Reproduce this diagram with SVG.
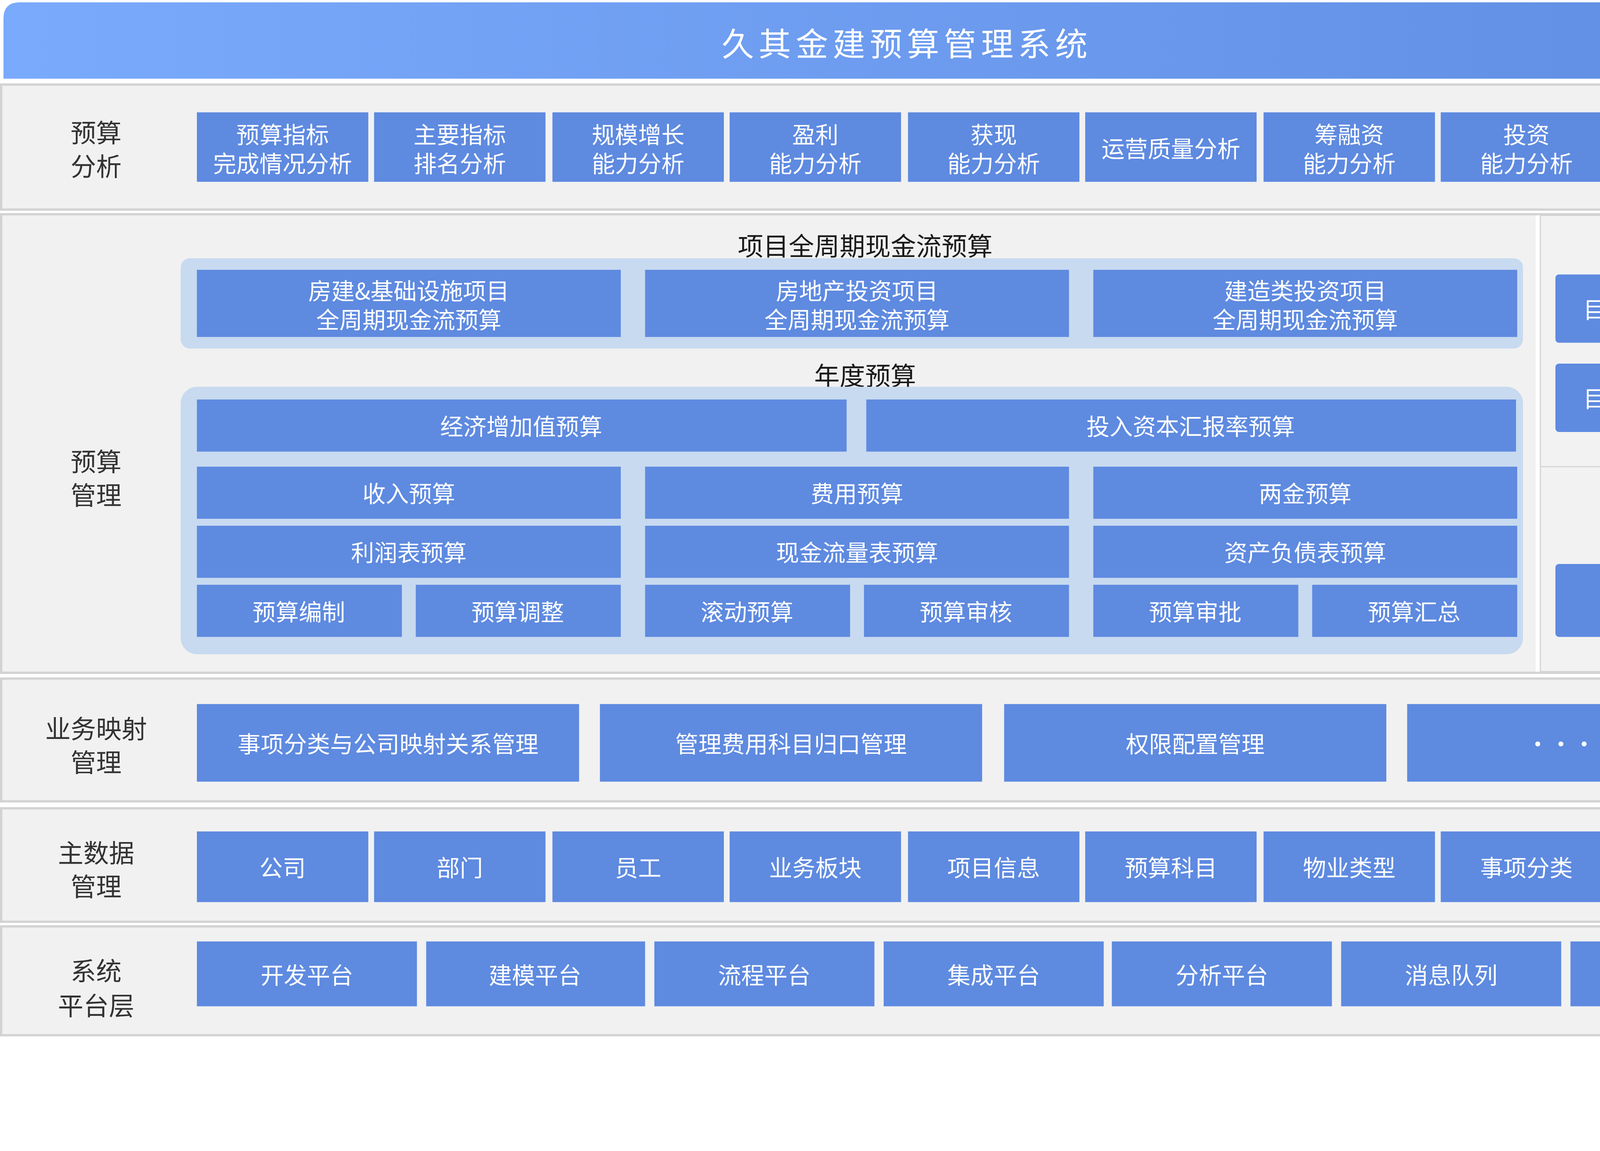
<svg xmlns="http://www.w3.org/2000/svg" width="4649" height="2947" viewBox="0 0 4649 2947">
<defs>
<linearGradient id="tg" x1="0" y1="0" x2="1" y2="0"><stop offset="0" stop-color="#7aaafc"/><stop offset="1" stop-color="#5f8de2"/></linearGradient>
<style>
text{font-family:"Noto Sans CJK SC","Noto Sans",sans-serif;text-anchor:middle;dominant-baseline:central}
.p{fill:#f1f1f1;stroke:#d3d3d3;stroke-width:2}
.b{fill:#5e8ae0}
.c{fill:#c8daf0}
.w{fill:#fff;font-size:20px}
.l{fill:#333;font-size:22px}
.h{fill:#1a1a1a;font-size:22px}
</style>
</defs>
<rect width="4649" height="2947" fill="#fff"/>
<g transform="scale(2.9649)">
<g id="title"><path d="M3 68V16Q3 2 17 2H1552Q1566 2 1566 16V68Z" fill="url(#tg)"/><text x="783" y="36" fill="#fff" font-size="28" letter-spacing="4">久其金建预算管理系统</text></g>
<g id="row1"><rect class="p" x="1" y="73" width="1566" height="108"/><text class="l" x="83" y="113">预算</text><text class="l" x="83" y="142">分析</text>
<rect class="b" x="170" y="97" width="148" height="60"/><text class="w" x="244" y="115">预算指标</text><text class="w" x="244" y="140">完成情况分析</text>
<rect class="b" x="323" y="97" width="148" height="60"/><text class="w" x="397" y="115">主要指标</text><text class="w" x="397" y="140">排名分析</text>
<rect class="b" x="477" y="97" width="148" height="60"/><text class="w" x="551" y="115">规模增长</text><text class="w" x="551" y="140">能力分析</text>
<rect class="b" x="630" y="97" width="148" height="60"/><text class="w" x="704" y="115">盈利</text><text class="w" x="704" y="140">能力分析</text>
<rect class="b" x="784" y="97" width="148" height="60"/><text class="w" x="858" y="115">获现</text><text class="w" x="858" y="140">能力分析</text>
<rect class="b" x="937" y="97" width="148" height="60"/><text class="w" x="1011" y="127">运营质量分析</text>
<rect class="b" x="1091" y="97" width="148" height="60"/><text class="w" x="1165" y="115">筹融资</text><text class="w" x="1165" y="140">能力分析</text>
<rect class="b" x="1244" y="97" width="148" height="60"/><text class="w" x="1318" y="115">投资</text><text class="w" x="1318" y="140">能力分析</text>
<rect class="b" x="1398" y="97" width="148" height="60"/><text class="w" x="1472" y="115">现金流</text><text class="w" x="1472" y="140">分析</text></g>
<g id="row2"><rect class="p" x="1" y="185" width="1566" height="396"/><rect x="1326" y="186" width="4" height="394" fill="#fff"/><rect x="1330" y="186" width="236" height="394" fill="#f2f2f2" stroke="#d3d3d3" stroke-width="1"/><line x1="1330" y1="403" x2="1566" y2="403" stroke="#d6d6d6" stroke-width="1"/>
<text class="l" x="83" y="397">预算</text><text class="l" x="83" y="426">管理</text>
<text class="h" x="747" y="211">项目全周期现金流预算</text>
<rect class="c" x="156" y="223" width="1159" height="78" rx="8"/>
<rect class="b" x="170" y="233" width="366" height="58"/><text class="w" x="353" y="250">房建&amp;基础设施项目</text><text class="w" x="353" y="275">全周期现金流预算</text>
<rect class="b" x="557" y="233" width="366" height="58"/><text class="w" x="740" y="250">房地产投资项目</text><text class="w" x="740" y="275">全周期现金流预算</text>
<rect class="b" x="944" y="233" width="366" height="58"/><text class="w" x="1127" y="250">建造类投资项目</text><text class="w" x="1127" y="275">全周期现金流预算</text>
<text class="h" x="747" y="323">年度预算</text>
<rect class="c" x="156" y="334" width="1159" height="231" rx="14"/>
<rect class="b" x="170" y="345" width="561" height="45"/><text class="w" x="450" y="367">经济增加值预算</text>
<rect class="b" x="748" y="345" width="561" height="45"/><text class="w" x="1028" y="367">投入资本汇报率预算</text>
<rect class="b" x="170" y="403" width="366" height="45"/><text class="w" x="353" y="425">收入预算</text>
<rect class="b" x="557" y="403" width="366" height="45"/><text class="w" x="740" y="425">费用预算</text>
<rect class="b" x="944" y="403" width="366" height="45"/><text class="w" x="1127" y="425">两金预算</text>
<rect class="b" x="170" y="454" width="366" height="45"/><text class="w" x="353" y="476">利润表预算</text>
<rect class="b" x="557" y="454" width="366" height="45"/><text class="w" x="740" y="476">现金流量表预算</text>
<rect class="b" x="944" y="454" width="366" height="45"/><text class="w" x="1127" y="476">资产负债表预算</text>
<rect class="b" x="170" y="505" width="177" height="45"/><text class="w" x="258" y="527">预算编制</text>
<rect class="b" x="359" y="505" width="177" height="45"/><text class="w" x="447" y="527">预算调整</text>
<rect class="b" x="557" y="505" width="177" height="45"/><text class="w" x="645" y="527">滚动预算</text>
<rect class="b" x="746" y="505" width="177" height="45"/><text class="w" x="834" y="527">预算审核</text>
<rect class="b" x="944" y="505" width="177" height="45"/><text class="w" x="1032" y="527">预算审批</text>
<rect class="b" x="1133" y="505" width="177" height="45"/><text class="w" x="1221" y="527">预算汇总</text>
<text class="h" x="1441" y="211">目标预算</text>
<rect class="b" x="1343" y="237" width="209" height="59" rx="3"/><text class="w" x="1447" y="266">目标分解（二下）</text>
<rect class="b" x="1343" y="314" width="209" height="59" rx="3"/><text class="w" x="1447" y="343">目标分解（三下）</text>
<text class="h" x="1441" y="453">绩效调整</text>
<rect class="b" x="1343" y="487" width="209" height="63" rx="3"/><text class="w" x="1447" y="518">绩效考核调整</text></g>
<g id="row3"><rect class="p" x="1" y="586" width="1566" height="106"/><text class="l" x="83" y="628">业务映射</text><text class="l" x="83" y="657">管理</text>
<rect class="b" x="170" y="608" width="330" height="67"/><text class="w" x="335" y="641">事项分类与公司映射关系管理</text>
<rect class="b" x="518" y="608" width="330" height="67"/><text class="w" x="683" y="641">管理费用科目归口管理</text>
<rect class="b" x="867" y="608" width="330" height="67"/><text class="w" x="1032" y="641">权限配置管理</text>
<rect class="b" x="1215" y="608" width="331" height="67"/><text class="w" x="1380" y="641" font-size="16">··· ···</text></g>
<g id="row4"><rect class="p" x="1" y="698" width="1566" height="98"/><text class="l" x="83" y="735">主数据</text><text class="l" x="83" y="764">管理</text>
<rect class="b" x="170" y="718" width="148" height="61"/><text class="w" x="244" y="748">公司</text>
<rect class="b" x="323" y="718" width="148" height="61"/><text class="w" x="397" y="748">部门</text>
<rect class="b" x="477" y="718" width="148" height="61"/><text class="w" x="551" y="748">员工</text>
<rect class="b" x="630" y="718" width="148" height="61"/><text class="w" x="704" y="748">业务板块</text>
<rect class="b" x="784" y="718" width="148" height="61"/><text class="w" x="858" y="748">项目信息</text>
<rect class="b" x="937" y="718" width="148" height="61"/><text class="w" x="1011" y="748">预算科目</text>
<rect class="b" x="1091" y="718" width="148" height="61"/><text class="w" x="1165" y="748">物业类型</text>
<rect class="b" x="1244" y="718" width="148" height="61"/><text class="w" x="1318" y="748">事项分类</text>
<rect class="b" x="1398" y="718" width="148" height="61"/><text class="w" x="1472" y="748" font-size="16">··· ···</text></g>
<g id="row5"><rect class="p" x="1" y="800" width="1566" height="94"/><text class="l" x="83" y="837">系统</text><text class="l" x="83" y="867">平台层</text>
<rect class="b" x="170" y="813" width="190" height="56"/><text class="w" x="265" y="841">开发平台</text>
<rect class="b" x="368" y="813" width="189" height="56"/><text class="w" x="462" y="841">建模平台</text>
<rect class="b" x="565" y="813" width="190" height="56"/><text class="w" x="660" y="841">流程平台</text>
<rect class="b" x="763" y="813" width="190" height="56"/><text class="w" x="858" y="841">集成平台</text>
<rect class="b" x="960" y="813" width="190" height="56"/><text class="w" x="1055" y="841">分析平台</text>
<rect class="b" x="1158" y="813" width="190" height="56"/><text class="w" x="1253" y="841">消息队列</text>
<rect class="b" x="1356" y="813" width="190" height="56"/><text class="w" x="1451" y="841">系统接口</text></g>
<g id="connectors"/>
</g>
</svg>
